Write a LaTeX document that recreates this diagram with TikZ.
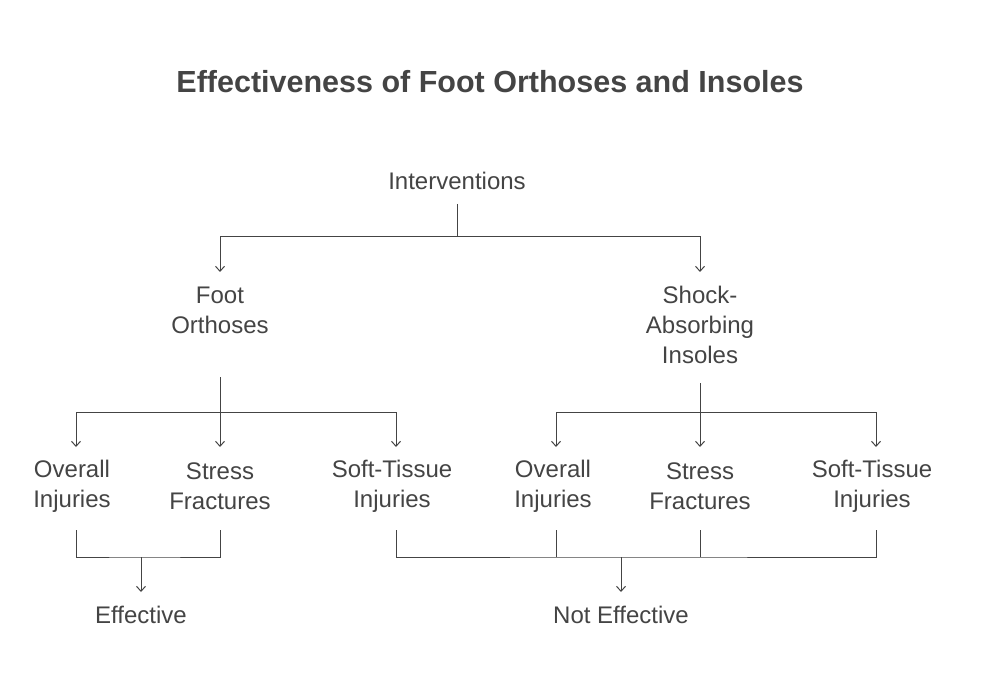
\documentclass[tikz,border=0pt]{standalone}
\usepackage{fontspec}
\setmainfont{Liberation Sans}
\usetikzlibrary{arrows.meta}
\definecolor{txt}{HTML}{444444}
\begin{document}
\begin{tikzpicture}[x=1pt,y=-1pt,
  lbl/.style={text=txt,font=\fontsize{24}{30}\selectfont,align=center,inner sep=0pt},
  ln/.style={draw=txt,line width=1pt},
  arr/.style={ln,-{Straight Barb[length=5pt,width=9pt]}}]
\useasboundingbox (0,0) rectangle (982,692);
\node[text=txt,font=\bfseries\fontsize{30.5}{36}\selectfont] (title) at (490,82) {Effectiveness of Foot Orthoses and Insoles};
\node[lbl] (int) at (457,181) {Interventions};
\node[lbl] (fo) at (220,310) {Foot\\Orthoses};
\node[lbl] (sa) at (700,325) {Shock-\\Absorbing\\Insoles};
\node[lbl] (o1) at (72,486) {Overall\\Injuries};
\node[lbl] (s1) at (220,486) {Stress\\Fractures};
\node[lbl] (t1) at (392,486) {Soft-Tissue\\Injuries};
\node[lbl] (o2) at (553,486) {Overall\\Injuries};
\node[lbl] (s2) at (700,486) {Stress\\Fractures};
\node[lbl] (t2) at (872,486) {Soft-Tissue\\Injuries};
\node[lbl] (eff) at (141,615) {Effective};
\node[lbl] (neff) at (621,615) {Not Effective};
\coordinate (a0) at (457,204); \coordinate (aj) at (457,237);
\coordinate (af) at (220,272); \coordinate (as) at (700,272);
\draw[ln] (a0) -- (aj);
\draw[arr] (aj) -| (af);
\draw[arr] (aj) -| (as);
\coordinate (f0) at (220,377); \coordinate (fj) at (220,412);
\draw[ln] (f0) -- (fj);
\draw[arr] (fj) -| (76,447);
\draw[arr] (fj) -- (220,447);
\draw[arr] (fj) -| (396,447);
\coordinate (s0) at (700,383); \coordinate (sj) at (700,412);
\draw[ln] (s0) -- (sj);
\draw[arr] (sj) -| (556,447);
\draw[arr] (sj) -- (700,447);
\draw[arr] (sj) -| (876,447);
\coordinate (ej) at (141,557); \coordinate (ee) at (141,592);
\draw[ln] (76,530) |- (ej) -| (220,530);
\draw[arr] (ej) -- (ee);
\coordinate (nj) at (621,557); \coordinate (ne) at (621,592);
\draw[ln] (396,530) |- (nj) -| (876,530);
\draw[ln] (556,530) -- (556,557);
\draw[ln] (700,530) -- (700,557);
\draw[arr] (nj) -- (ne);
\end{tikzpicture}
\end{document}
